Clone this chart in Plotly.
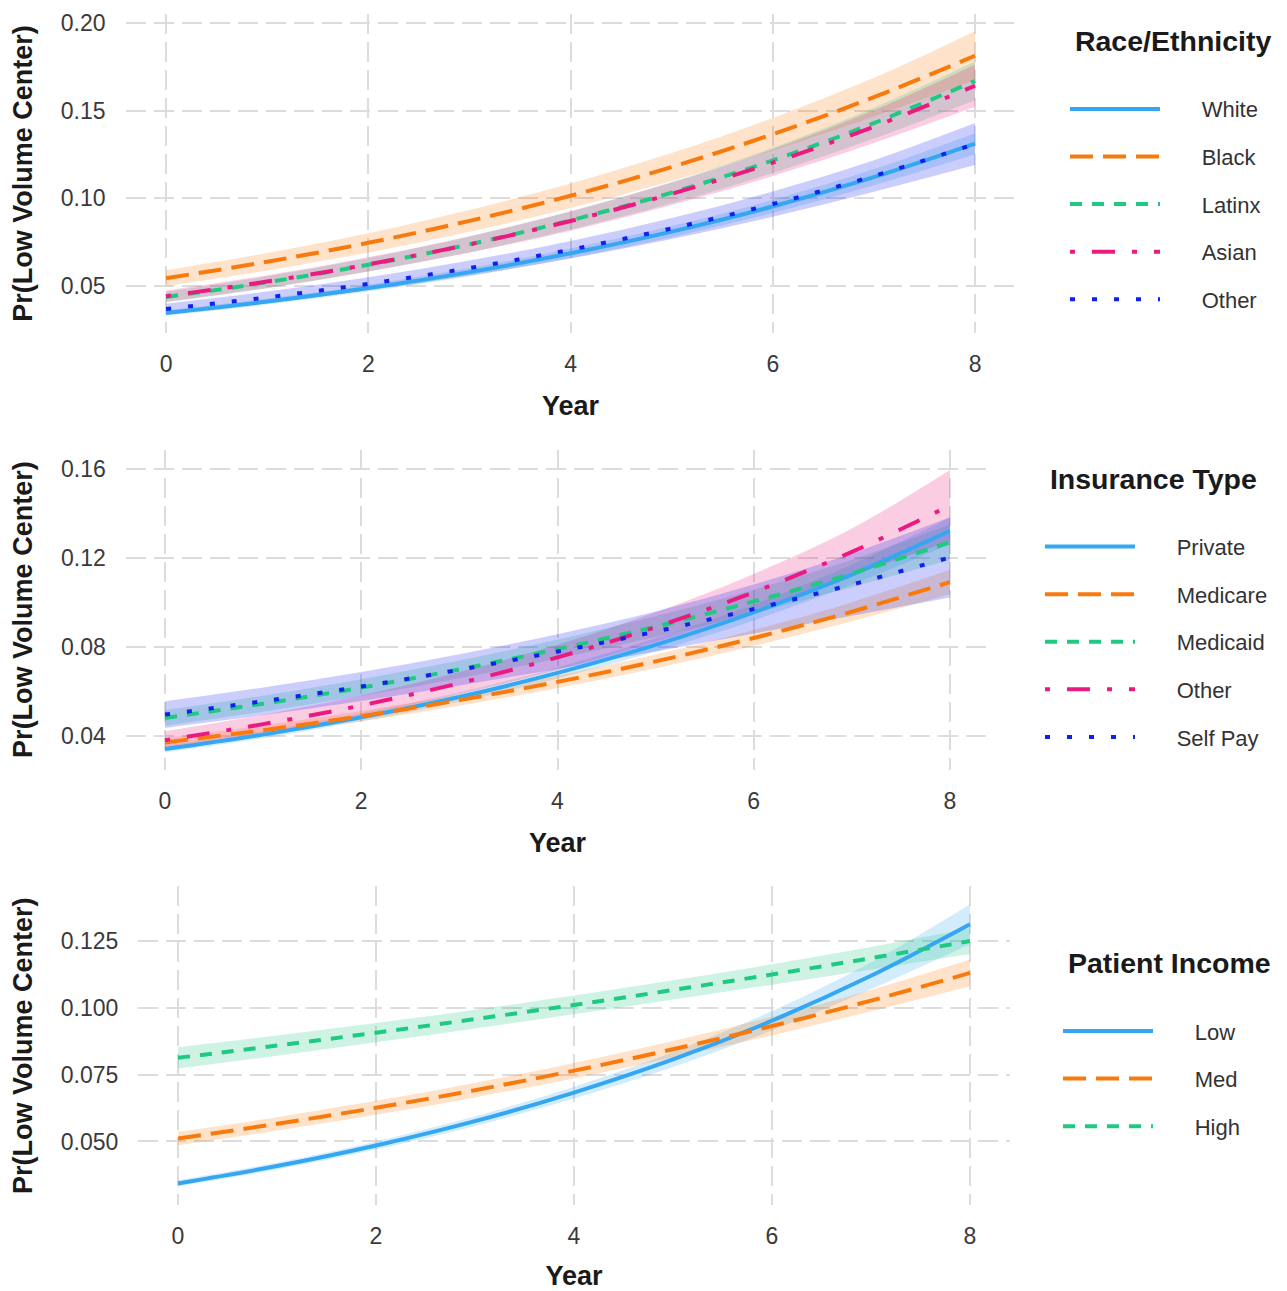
import plotly.graph_objects as go

# ---------------- data ----------------
years = [0, 1, 2, 3, 4, 5, 6, 7, 8]
year_ticks = [0, 2, 4, 6, 8]

# Panel 1: Race/Ethnicity
race_labels = ["White", "Black", "Latinx", "Asian", "Other"]
white_est = [0.0347, 0.0412, 0.0489, 0.0580, 0.0687, 0.0811, 0.0954, 0.1121, 0.1312]
white_lo = [0.0332, 0.0395, 0.0470, 0.0557, 0.0660, 0.0779, 0.0917, 0.1075, 0.1252]
white_hi = [0.0362, 0.0429, 0.0508, 0.0603, 0.0714, 0.0843, 0.0991, 0.1167, 0.1372]
black_est = [0.0545, 0.0639, 0.0747, 0.0872, 0.1015, 0.1179, 0.1366, 0.1577, 0.1813]
black_lo = [0.0500, 0.0589, 0.0692, 0.0810, 0.0945, 0.1099, 0.1273, 0.1467, 0.1673]
black_hi = [0.0590, 0.0689, 0.0802, 0.0934, 0.1085, 0.1259, 0.1459, 0.1687, 0.1953]
latinx_est = [0.0438, 0.0522, 0.0622, 0.0738, 0.0875, 0.1033, 0.1217, 0.1429, 0.1670]
latinx_lo = [0.0408, 0.0488, 0.0583, 0.0693, 0.0823, 0.0972, 0.1145, 0.1341, 0.1560]
latinx_hi = [0.0468, 0.0556, 0.0661, 0.0783, 0.0927, 0.1094, 0.1289, 0.1517, 0.1780]
asian_est = [0.0443, 0.0526, 0.0624, 0.0738, 0.0871, 0.1026, 0.1204, 0.1409, 0.1642]
asian_lo = [0.0411, 0.0490, 0.0583, 0.0691, 0.0816, 0.0962, 0.1128, 0.1316, 0.1522]
asian_hi = [0.0475, 0.0562, 0.0665, 0.0785, 0.0926, 0.1090, 0.1280, 0.1502, 0.1762]
raceother_est = [0.0370, 0.0436, 0.0513, 0.0603, 0.0708, 0.0829, 0.0968, 0.1128, 0.1310]
raceother_lo = [0.0340, 0.0403, 0.0476, 0.0560, 0.0658, 0.0769, 0.0896, 0.1038, 0.1190]
raceother_hi = [0.0400, 0.0469, 0.0550, 0.0646, 0.0758, 0.0889, 0.1040, 0.1218, 0.1430]

# Panel 2: Insurance Type
ins_labels = ["Private", "Medicare", "Medicaid", "Other", "Self Pay"]
private_est = [0.0340, 0.0405, 0.0483, 0.0574, 0.0682, 0.0808, 0.0954, 0.1124, 0.1320]
private_lo = [0.0325, 0.0389, 0.0465, 0.0553, 0.0657, 0.0778, 0.0918, 0.1079, 0.1260]
private_hi = [0.0355, 0.0421, 0.0501, 0.0595, 0.0707, 0.0838, 0.0990, 0.1169, 0.1380]
medicare_est = [0.0370, 0.0425, 0.0488, 0.0560, 0.0642, 0.0734, 0.0839, 0.0957, 0.1090]
medicare_lo = [0.0350, 0.0404, 0.0465, 0.0535, 0.0614, 0.0703, 0.0803, 0.0914, 0.1035]
medicare_hi = [0.0390, 0.0446, 0.0511, 0.0585, 0.0670, 0.0765, 0.0875, 0.1000, 0.1145]
medicaid_est = [0.0480, 0.0544, 0.0616, 0.0698, 0.0789, 0.0890, 0.1003, 0.1129, 0.1269]
medicaid_lo = [0.0445, 0.0508, 0.0578, 0.0658, 0.0746, 0.0843, 0.0950, 0.1067, 0.1189]
medicaid_hi = [0.0515, 0.0580, 0.0654, 0.0738, 0.0832, 0.0937, 0.1056, 0.1191, 0.1349]
insother_est = [0.0380, 0.0452, 0.0536, 0.0636, 0.0752, 0.0888, 0.1045, 0.1226, 0.1434]
insother_lo = [0.0340, 0.0410, 0.0491, 0.0586, 0.0695, 0.0821, 0.0963, 0.1121, 0.1274]
insother_hi = [0.0420, 0.0494, 0.0581, 0.0686, 0.0809, 0.0955, 0.1127, 0.1331, 0.1594]
selfpay_est = [0.0495, 0.0555, 0.0621, 0.0696, 0.0778, 0.0868, 0.0969, 0.1079, 0.1201]
selfpay_lo = [0.0435, 0.0493, 0.0556, 0.0626, 0.0700, 0.0778, 0.0859, 0.0939, 0.1021]
selfpay_hi = [0.0555, 0.0617, 0.0686, 0.0766, 0.0856, 0.0958, 0.1079, 0.1219, 0.1381]

# Panel 3: Patient Income
inc_labels = ["Low", "Med", "High"]
low_est = [0.0343, 0.0408, 0.0485, 0.0576, 0.0683, 0.0807, 0.0952, 0.1120, 0.1313]
low_lo = [0.0331, 0.0395, 0.0470, 0.0558, 0.0661, 0.0779, 0.0916, 0.1070, 0.1238]
low_hi = [0.0355, 0.0421, 0.0500, 0.0594, 0.0705, 0.0835, 0.0988, 0.1170, 0.1388]
med_est = [0.0511, 0.0566, 0.0626, 0.0692, 0.0765, 0.0845, 0.0932, 0.1027, 0.1131]
med_lo = [0.0486, 0.0541, 0.0600, 0.0665, 0.0736, 0.0814, 0.0897, 0.0987, 0.1081]
med_hi = [0.0536, 0.0591, 0.0652, 0.0719, 0.0794, 0.0876, 0.0967, 0.1067, 0.1181]
high_est = [0.0813, 0.0859, 0.0907, 0.0958, 0.1011, 0.1067, 0.1125, 0.1186, 0.1250]
high_lo = [0.0773, 0.0821, 0.0871, 0.0923, 0.0976, 0.1031, 0.1087, 0.1144, 0.1202]
high_hi = [0.0853, 0.0897, 0.0943, 0.0993, 0.1046, 0.1103, 0.1163, 0.1228, 0.1298]

# ---------------- style ----------------
C_LBLUE = "#35A7F2"
C_ORANGE = "#F97A0C"
C_GREEN = "#20C982"
C_PINK = "#EB1A80"
C_BLUE = "#1020F0"

D_SOLID = "solid"
D_LONG = "23px,10px"
D_DASH = "12px,10px"
D_DOTDASH = "5px,17px,23px,17px"
D_DOT = "5px,17px"

FONT = "Liberation Sans, Arial, sans-serif"
PAD = "\u00a0" * 6


def rgba(h, a):
    h = h.lstrip("#")
    return "rgba(%d,%d,%d,%.2f)" % (int(h[0:2], 16), int(h[2:4], 16), int(h[4:6], 16), a)


fig = go.Figure()


def add_panel(n, legend, labels, ests, los, his, colors, dashes):
    xa = "x" if n == 1 else "x%d" % n
    ya = "y" if n == 1 else "y%d" % n
    for lo, hi, col in zip(los, his, colors):
        fig.add_trace(go.Scatter(x=years, y=lo, mode="lines", line=dict(width=0, shape="spline"),
                                 xaxis=xa, yaxis=ya, showlegend=False, hoverinfo="skip"))
        fig.add_trace(go.Scatter(x=years, y=hi, mode="lines", line=dict(width=0, shape="spline"),
                                 fill="tonexty", fillcolor=rgba(col, 0.22),
                                 xaxis=xa, yaxis=ya, showlegend=False, hoverinfo="skip"))
    for lab, est, col, dash in zip(labels, ests, colors, dashes):
        fig.add_trace(go.Scatter(x=years, y=est, mode="lines", name=PAD + lab,
                                 line=dict(color=col, width=4, dash=dash, shape="spline"),
                                 xaxis=xa, yaxis=ya, legend=legend, legendgroup=legend + lab))


add_panel(1, "legend", race_labels,
          [white_est, black_est, latinx_est, asian_est, raceother_est],
          [white_lo, black_lo, latinx_lo, asian_lo, raceother_lo],
          [white_hi, black_hi, latinx_hi, asian_hi, raceother_hi],
          [C_LBLUE, C_ORANGE, C_GREEN, C_PINK, C_BLUE],
          [D_SOLID, D_LONG, D_DASH, D_DOTDASH, D_DOT])
add_panel(2, "legend2", ins_labels,
          [private_est, medicare_est, medicaid_est, insother_est, selfpay_est],
          [private_lo, medicare_lo, medicaid_lo, insother_lo, selfpay_lo],
          [private_hi, medicare_hi, medicaid_hi, insother_hi, selfpay_hi],
          [C_LBLUE, C_ORANGE, C_GREEN, C_PINK, C_BLUE],
          [D_SOLID, D_LONG, D_DASH, D_DOTDASH, D_DOT])
add_panel(3, "legend3", inc_labels,
          [low_est, med_est, high_est],
          [low_lo, med_lo, high_lo],
          [low_hi, med_hi, high_hi],
          [C_LBLUE, C_ORANGE, C_GREEN],
          [D_SOLID, D_LONG, D_DASH])

# page body has an 8px margin; figure fills the rest of the 1287x1291 window
OFF = 8
W, H = 1287 - OFF, 1291 - OFF


def px_x(p):
    return (p - OFF) / W


def px_y(p):
    return 1 - (p - OFF) / H


grid = dict(showgrid=True, gridcolor="#DCDCDC", gridwidth=1.8, griddash="20px,8px",
            zeroline=False, showline=False, ticks="", ticklabeloverflow="allow",
            tickfont=dict(family=FONT, size=23, color="#3a3a3a"))

panels = [
    # (x domain px, y domain px, y range, y ticks, y format)
    ((125.6, 1015.5), (10, 330), (0.02330, 0.20511), [0.05, 0.10, 0.15, 0.20], ".2f"),
    ((125.75, 989.25), (447, 768), (0.02477, 0.16851), [0.04, 0.08, 0.12, 0.16], ".2f"),
    ((138.4, 1009.6), (885, 1205), (0.02612, 0.14552), [0.050, 0.075, 0.100, 0.125], ".3f"),
]

axis_title_font = dict(family=FONT, size=27, weight="bold", color="#1a1a1a")

layout_axes = {}
for i, (xd, yd, yr, yt, yf) in enumerate(panels, start=1):
    sx = "" if i == 1 else str(i)
    layout_axes["xaxis" + sx] = dict(
        grid, domain=[px_x(xd[0]), px_x(xd[1])], range=[-0.4, 8.4],
        tickvals=year_ticks, anchor="y" + sx, ticklabelstandoff=15,
        title=dict(text="Year", font=axis_title_font, standoff=20))
    layout_axes["yaxis" + sx] = dict(
        grid, domain=[px_y(yd[1]), px_y(yd[0])], range=list(yr),
        tickvals=yt, tickformat=yf, anchor="x" + sx, ticklabelstandoff=19,
        title=dict(text="Pr(Low Volume Center)", font=axis_title_font, standoff=26))

legend_common = dict(xanchor="left", yanchor="top", bgcolor="rgba(0,0,0,0)", borderwidth=0,
                     font=dict(family=FONT, size=22, color="#333333"),
                     itemwidth=90, tracegroupgap=16, traceorder="grouped")


def legend_title(text):
    return dict(text="\u00a0" + text + "<br>\u00a0",
                font=dict(family=FONT, size=28.5, weight="bold", color="#1a1a1a"))


fig.update_layout(
    width=W, height=H,
    margin=dict(l=0, r=0, t=0, b=0),
    paper_bgcolor="white", plot_bgcolor="white",
    font=dict(family=FONT),
    showlegend=True,
    legend=dict(legend_common, x=px_x(1065), y=px_y(10), title=legend_title("Race/Ethnicity")),
    legend2=dict(legend_common, x=px_x(1040), y=px_y(449), title=legend_title("Insurance Type")),
    legend3=dict(legend_common, x=px_x(1058), y=px_y(935), title=legend_title("Patient Income")),
    **layout_axes,
)

fig.write_html("out.html")
